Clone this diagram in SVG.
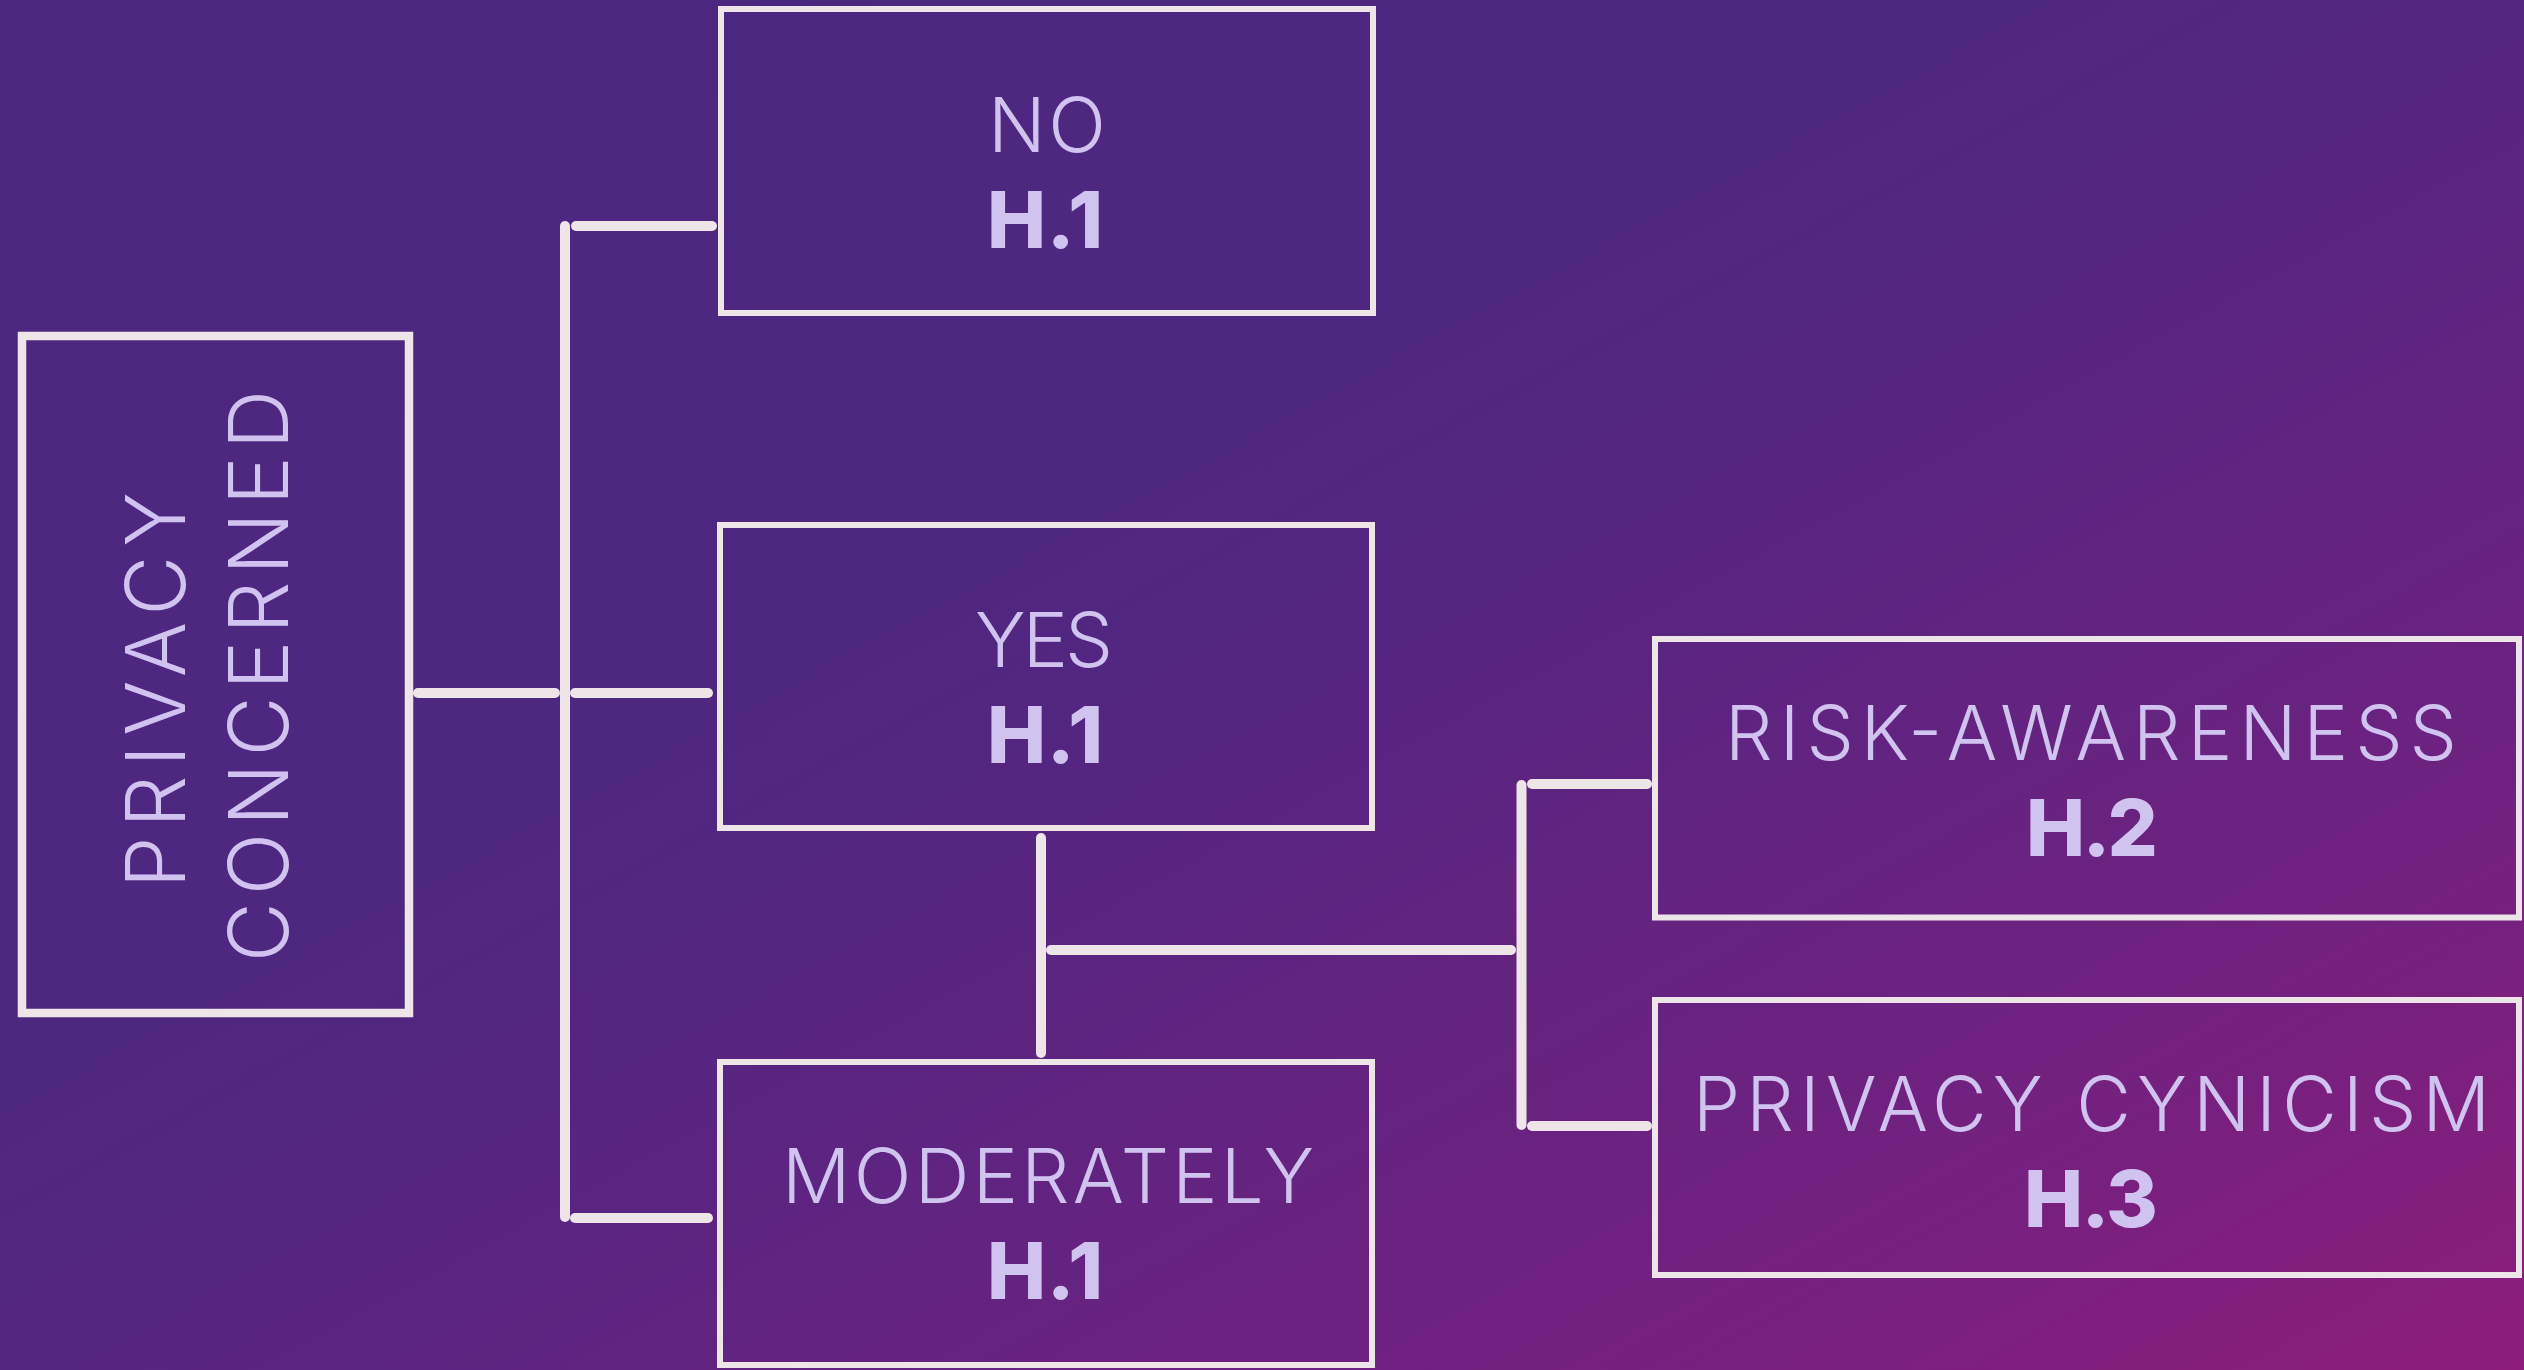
<svg xmlns="http://www.w3.org/2000/svg" width="2524" height="1370" viewBox="0 0 2524 1370">
<defs>
<linearGradient id="bg" x1="0" y1="0" x2="1" y2="1">
<stop offset="0" stop-color="#4b2780"/>
<stop offset="0.4" stop-color="#4e2780"/>
<stop offset="0.5" stop-color="#552581"/>
<stop offset="0.75" stop-color="#6c2280"/>
<stop offset="1" stop-color="#8c1d7c"/>
</linearGradient>
<style>
.box{fill:none;stroke:#ede5e8;stroke-width:6}
.lbl{font-family:Inter,"Liberation Sans",sans-serif;font-weight:300;fill:#d0c3ef;text-anchor:middle}
.h{font-family:Inter,"Liberation Sans",sans-serif;font-weight:800;fill:#d0c3ef;text-anchor:middle;font-size:79px}
.c line{stroke:#ede5e8;stroke-width:10;stroke-linecap:round}
</style>
</defs>
<rect x="0" y="0" width="2524" height="1370" fill="url(#bg)"/>
<g id="privacy-concerned">
<rect class="box" x="22" y="336" width="387" height="677" style="stroke-width:8.5"/>
<text class="lbl" font-size="82" transform="translate(185,690) rotate(-90)" textLength="396" lengthAdjust="spacing">PRIVACY</text>
<text class="lbl" font-size="82" transform="translate(288,676) rotate(-90)" textLength="572" lengthAdjust="spacing">CONCERNED</text>
</g>
<g id="no">
<rect class="box" x="721" y="9" width="652" height="304"/>
<text class="lbl" x="1047" y="152" font-size="76" textLength="118" lengthAdjust="spacing">NO</text>
<text class="h" x="1045" y="248" textLength="116" lengthAdjust="spacing">H.1</text>
</g>
<g id="yes">
<rect class="box" x="720" y="525" width="652" height="303"/>
<text class="lbl" x="1044" y="667" font-size="76" textLength="138" lengthAdjust="spacing">YES</text>
<text class="h" x="1045" y="763" textLength="116" lengthAdjust="spacing">H.1</text>
</g>
<g id="moderately">
<rect class="box" x="720" y="1062" width="652" height="303"/>
<text class="lbl" x="1048" y="1203" font-size="76" textLength="532" lengthAdjust="spacing">MODERATELY</text>
<text class="h" x="1045" y="1299" textLength="116" lengthAdjust="spacing">H.1</text>
</g>
<g id="risk-awareness">
<rect class="box" x="1655" y="639" width="864" height="278.5"/>
<text class="lbl" x="2091" y="760" font-size="75" textLength="732" lengthAdjust="spacing">RISK-AWARENESS</text>
<text class="h" x="2092" y="856" textLength="132" lengthAdjust="spacing">H.2</text>
</g>
<g id="privacy-cynicism">
<rect class="box" x="1655" y="1000" width="864" height="275"/>
<text class="lbl" x="2091.5" y="1131" font-size="75" textLength="797" lengthAdjust="spacing">PRIVACY CYNICISM</text>
<text class="h" x="2091" y="1227" textLength="134" lengthAdjust="spacing">H.3</text>
</g>
<g id="connectors" class="c">
<line x1="418" y1="693" x2="555" y2="693"/>
<line x1="565" y1="226" x2="565" y2="1217"/>
<line x1="576" y1="226" x2="712" y2="226"/>
<line x1="575" y1="693" x2="708" y2="693"/>
<line x1="575" y1="1218" x2="708" y2="1218"/>
<line x1="1041" y1="838" x2="1041" y2="1053"/>
<line x1="1051" y1="950" x2="1511" y2="950"/>
<line x1="1521.5" y1="785" x2="1521.5" y2="1125"/>
<line x1="1532" y1="784" x2="1647" y2="784"/>
<line x1="1532" y1="1126" x2="1647" y2="1126"/>
</g>
</svg>
